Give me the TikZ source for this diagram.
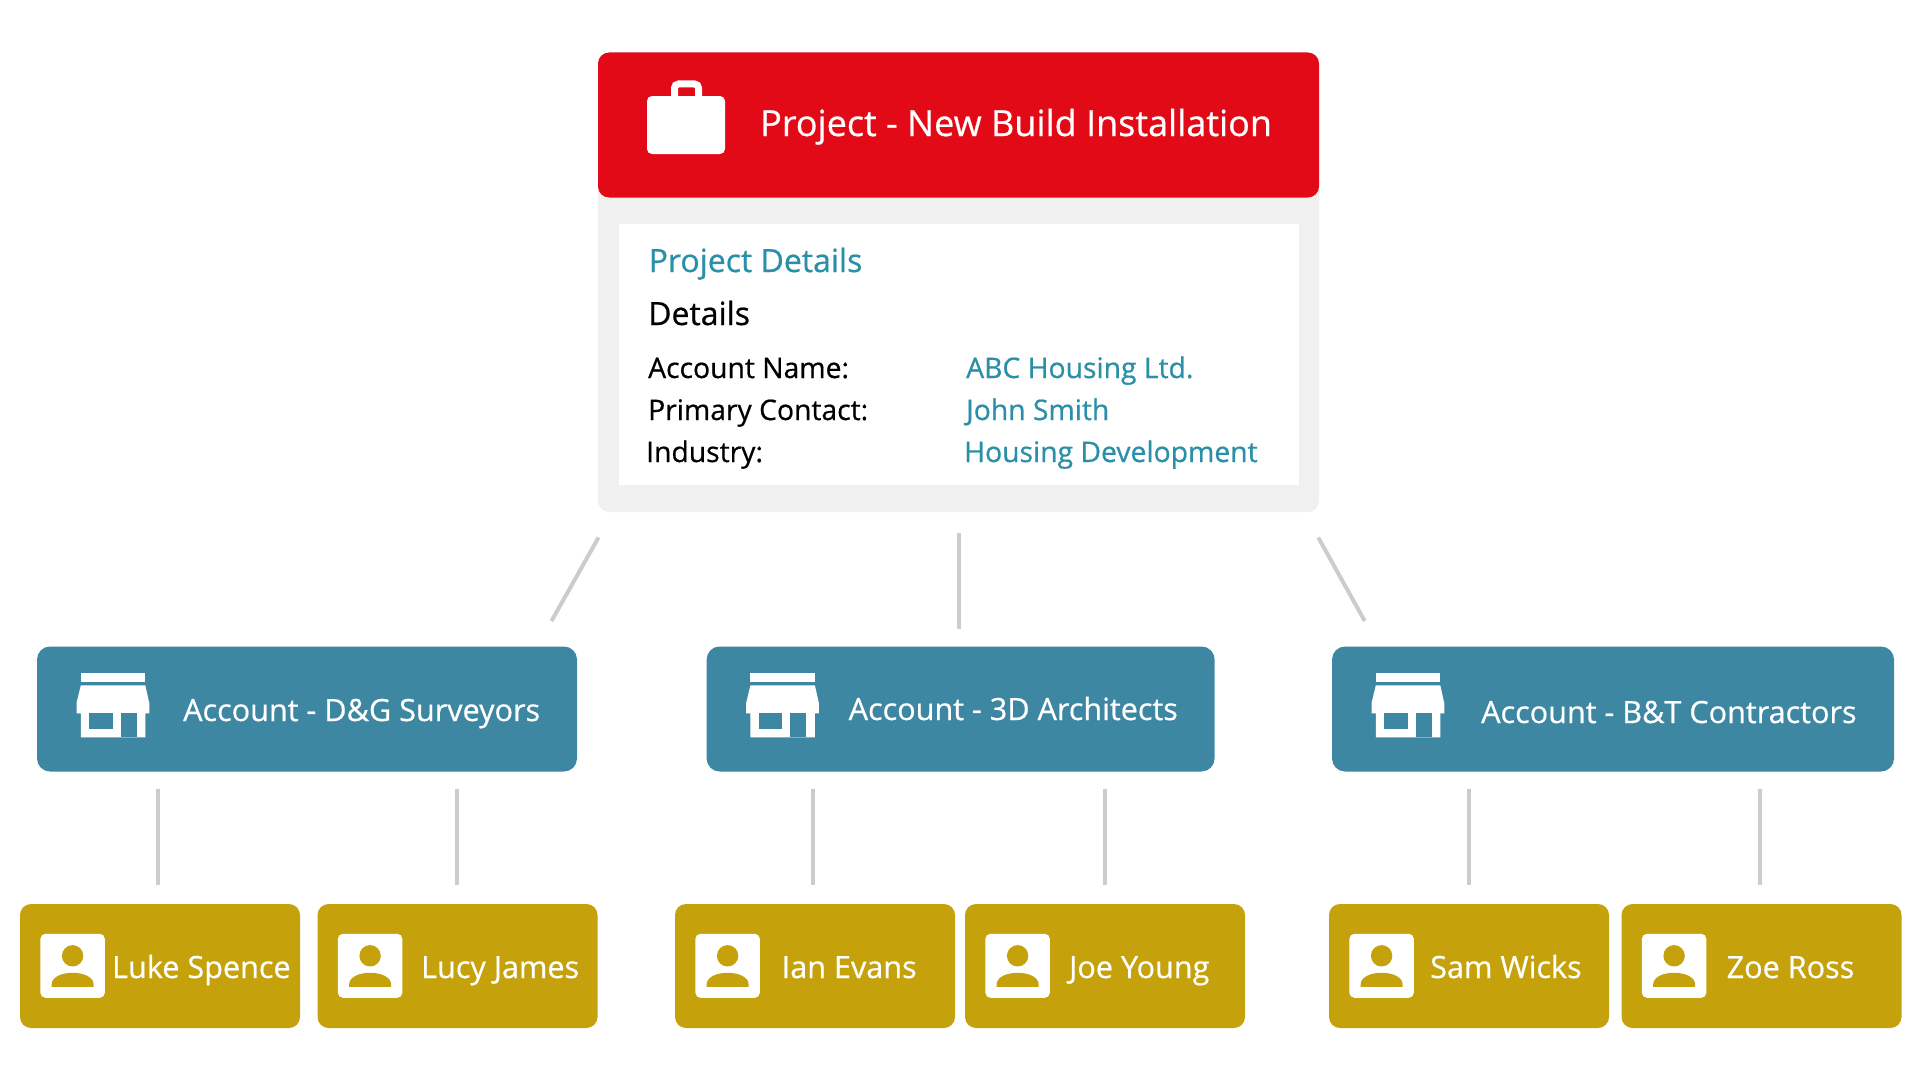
\documentclass[tikz,border=0pt]{standalone}
\usepackage{fontspec}
\setmainfont{Open Sans}[FakeBold=0.6]
\definecolor{projred}{RGB}{227,10,23}
\definecolor{panelgray}{RGB}{240,240,240}
\definecolor{acctblue}{RGB}{61,135,162}
\definecolor{cardgold}{RGB}{197,162,12}
\definecolor{linkgray}{RGB}{204,204,204}
\definecolor{valueblue}{RGB}{42,143,168}
\tikzset{
  acctbox/.style={fill=acctblue, rounded corners=13, minimum height=125, inner sep=0},
  cardbox/.style={fill=cardgold, rounded corners=11, minimum width=280, minimum height=124, inner sep=0},
  linkline/.style={draw=linkgray, line width=4},
  boxtext/.style={anchor=base west, inner sep=0, text=white, font=\fontsize{30.6}{36}\selectfont},
  infolabel/.style={anchor=base west, inner sep=0, text=black, font=\fontsize{28.3}{34}\selectfont},
  infovalue/.style={anchor=base west, inner sep=0, text=valueblue, font=\fontsize{28.3}{34}\selectfont},
  storeicon/.pic={
    \fill[white] (44,27) rectangle (108.5,36);
    \fill[white] (44,39) -- (108.5,39) -- (112.5,57) -- (112.5,67) -- (108.5,67) -- (108.5,91)
      -- (44,91) -- (44,67) -- (39.7,67) -- (39.7,57) -- cycle;
    \fill[acctblue] (52.4,67) rectangle (76,83);
    \fill[acctblue] (84,67) rectangle (100,91);
  },
  personicon/.pic={
    \fill[white, rounded corners=5] (20.6,30) rectangle (85,94);
    \fill[cardgold] (52.8,52) circle (10.7);
    \fill[cardgold] (31.8,83) -- (31.8,81) .. controls (31.8,73) and (42,69) .. (52.8,69)
      .. controls (63.5,69) and (73.9,73) .. (73.9,81) -- (73.9,83) -- cycle;
  }
}
\begin{document}
\begin{tikzpicture}[x=1pt, y=-1pt]
\useasboundingbox (0,0) rectangle (1920,1081);
\node[fill=panelgray, rounded corners=11, minimum width=721, minimum height=340, inner sep=0] (panel) at (958.5,342) {};
\node[fill=projred, rounded corners=11, minimum width=721, minimum height=145, inner sep=0] (project) at (958.5,125) {};
\node[fill=white, minimum width=680.5, minimum height=261, inner sep=0] (detailsbox) at (958.75,354) {};
\fill[white, rounded corners=5] (647,96) rectangle (725,154);
\draw[white, line width=7, rounded corners=4] (674.5,100) -- (674.5,84) -- (698.5,84) -- (698.5,100);
\node[boxtext, font=\fontsize{36}{42}\selectfont] (projecttitle) at (760,136) {Project - New Build Installation};
\node[infovalue, font=\fontsize{32}{38}\selectfont] (detailshead) at (648.5,272) {Project Details};
\node[infolabel, font=\fontsize{32}{38}\selectfont] (detailssub) at (648,325) {Details};
\node[infolabel] (namelabel) at (648,378) {Account Name:};
\node[infolabel] (contactlabel) at (648,420) {Primary Contact:};
\node[infolabel] (industrylabel) at (646,462) {Industry:};
\node[infovalue] (namevalue) at (966,378) {ABC Housing Ltd.};
\node[infovalue] (contactvalue) at (966,420) {John Smith};
\node[infovalue] (industryvalue) at (964,462) {Housing Development};
\foreach \name/\cx/\boxw/\txt/\tx/\ty in {
  acctdg/307/540/{Account - D\&G Surveyors}/183/721,
  acctarch/960.6/508/{Account - 3D Architects}/848.5/720,
  acctbt/1613/562/{Account - B\&T Contractors}/1481/723}
{
\node[acctbox, minimum width=\boxw] (\name) at (\cx,709) {};
\pic at (\name.north west) {storeicon};
\node[boxtext] (\name text) at (\tx,\ty) {\txt};
}
\foreach \name/\cx/\txt/\tx in {
  luke/160/Luke Spence/112,
  lucy/457.5/Lucy James/421,
  ian/815/Ian Evans/781.5,
  joe/1105/Joe Young/1069,
  sam/1469/Sam Wicks/1430,
  zoe/1761.5/Zoe Ross/1726.5}
{
\node[cardbox] (\name) at (\cx,966) {};
\pic at (\name.north west) {personicon};
\node[boxtext] (\name text) at (\tx,978) {\txt};
}
\draw[linkline, shorten <=29, shorten >=29] ([xshift=15]panel.south west) -- ([xshift=-40]acctdg.north east);
\draw[linkline, shorten <=21, shorten >=17] (panel.south) -- (panel.south |- acctarch.north);
\draw[linkline, shorten <=29, shorten >=29] ([xshift=-15]panel.south east) -- ([xshift=47]acctbt.north west);
\foreach \acct/\card/\dx in {acctdg/luke/-2, acctdg/lucy/-1, acctarch/ian/-2, acctarch/joe/-0.5, acctbt/sam/0, acctbt/zoe/-2}
{
\draw[linkline, shorten <=17, shorten >=19] ([xshift=\dx]\acct.south -| \card.north) -- ([xshift=\dx]\card.north);
}
\end{tikzpicture}
\end{document}
